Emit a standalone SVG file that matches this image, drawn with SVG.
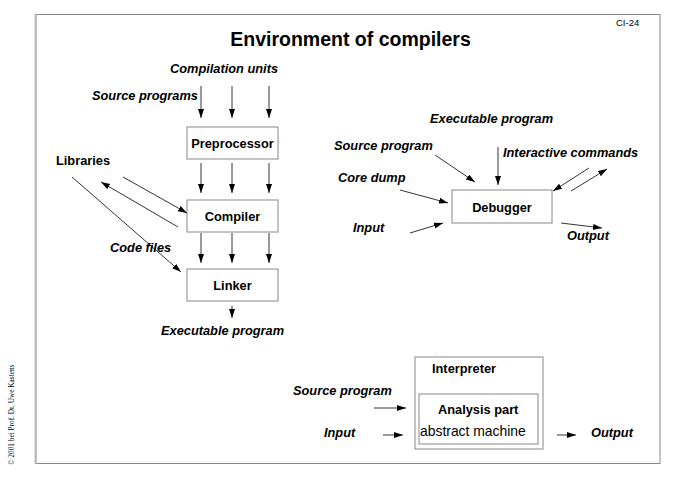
<svg xmlns="http://www.w3.org/2000/svg" width="678" height="480" viewBox="0 0 678 480">
<style>
  .t{font-family:"Liberation Sans",Arial,sans-serif;fill:#000}
  .bi{font-weight:bold;font-style:italic;font-size:12.8px}
  .b{font-weight:bold;font-size:12.8px}
  .box{fill:#fff;stroke:#888;stroke-width:1}
  .ln{stroke:#000;stroke-width:0.8;fill:none}
</style>
<defs>
  <marker id="ah" markerUnits="userSpaceOnUse" markerWidth="10" markerHeight="8" refX="9" refY="3" orient="auto">
    <path d="M0,0 L9,3 L0,6 z" fill="#000"/>
  </marker>
</defs>
<rect width="678" height="480" fill="#fff"/>
<g id="frame">
  <rect x="36" y="14.5" width="624" height="449" fill="none" stroke="#888" stroke-width="1"/>
  <line x1="35.5" y1="14" x2="35.5" y2="464" stroke="#bbb" stroke-width="2"/>
</g>
<text class="t" x="616" y="26" font-size="9.5">CI-24</text>
<text class="t" x="350.5" y="46" font-size="19.5" font-weight="bold" text-anchor="middle">Environment of compilers</text>
<text class="t" transform="translate(14,465) rotate(-90)" font-size="7.3" style="font-family:'Liberation Serif',serif">© 2001 bei Prof. Dr. Uwe Kastens</text>

<g id="preprocessor">
  <rect class="box" x="187" y="127" width="91" height="32"/>
  <text class="t b" x="232.5" y="148" text-anchor="middle">Preprocessor</text>
</g>
<g id="compiler">
  <rect class="box" x="187" y="200" width="91" height="32"/>
  <text class="t b" x="232.5" y="221" text-anchor="middle">Compiler</text>
</g>
<g id="linker">
  <rect class="box" x="187" y="269" width="91" height="32"/>
  <text class="t b" x="232.5" y="290" text-anchor="middle">Linker</text>
</g>
<g id="debugger">
  <rect class="box" x="452" y="190" width="100" height="33"/>
  <text class="t b" x="502" y="212" text-anchor="middle">Debugger</text>
</g>
<g id="interpreter">
  <rect class="box" x="415" y="357" width="128" height="92"/>
  <text class="t b" x="432" y="373">Interpreter</text>
  <rect class="box" x="419" y="394" width="119" height="50"/>
  <text class="t b" x="438" y="414">Analysis part</text>
  <text class="t" x="420" y="436" font-size="13.9">abstract machine</text>
</g>

<g id="labels">
  <text class="t bi" x="170" y="73">Compilation units</text>
  <text class="t bi" x="92" y="100">Source programs</text>
  <text class="t b" x="56" y="165">Libraries</text>
  <text class="t bi" x="110" y="252">Code files</text>
  <text class="t bi" x="161" y="335">Executable program</text>

  <text class="t bi" x="430" y="123">Executable program</text>
  <text class="t bi" x="334" y="150">Source program</text>
  <text class="t bi" x="503" y="157">Interactive commands</text>
  <text class="t bi" x="338" y="182">Core dump</text>
  <text class="t bi" x="353" y="232">Input</text>
  <text class="t bi" x="567" y="240">Output</text>

  <text class="t bi" x="293" y="395">Source program</text>
  <text class="t bi" x="324" y="437">Input</text>
  <text class="t bi" x="591" y="437">Output</text>
</g>

<g id="connectors" class="ln" marker-end="url(#ah)">
  <line x1="201" y1="86" x2="201" y2="118"/>
  <line x1="232" y1="86" x2="232" y2="118"/>
  <line x1="269" y1="86" x2="269" y2="118"/>
  <line x1="201" y1="163" x2="201" y2="193"/>
  <line x1="232" y1="163" x2="232" y2="193"/>
  <line x1="269" y1="163" x2="269" y2="193"/>
  <line x1="201" y1="233" x2="201" y2="263"/>
  <line x1="232" y1="233" x2="232" y2="263"/>
  <line x1="269" y1="233" x2="269" y2="263"/>
  <line x1="232" y1="306" x2="232" y2="318"/>
  <line x1="72" y1="177" x2="181" y2="272"/>
  <line x1="123" y1="177" x2="187" y2="213"/>
  <line x1="178" y1="227" x2="101" y2="182"/>

  <line x1="498" y1="147" x2="498" y2="185"/>
  <line x1="435" y1="155" x2="475" y2="182"/>
  <line x1="400" y1="190" x2="448" y2="203"/>
  <line x1="410" y1="233" x2="443" y2="223"/>
  <line x1="589" y1="168" x2="553" y2="191"/>
  <line x1="571" y1="191" x2="607" y2="169"/>
  <line x1="561" y1="223" x2="602" y2="228"/>

  <line x1="374" y1="408" x2="406" y2="408"/>
  <line x1="383" y1="435" x2="403" y2="435"/>
  <line x1="557" y1="435" x2="576" y2="435"/>
</g>
</svg>
